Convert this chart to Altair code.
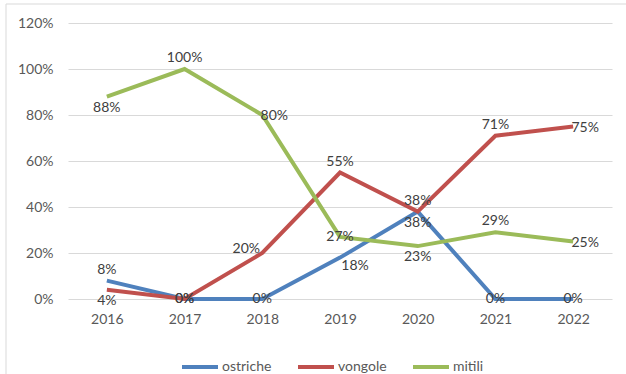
import altair as alt
import pandas as pd

# Share of each species by year
years = ["2016", "2017", "2018", "2019", "2020", "2021", "2022"]
series = ["ostriche", "vongole", "mitili"]
ostriche = [0.08, 0.00, 0.00, 0.18, 0.38, 0.00, 0.00]
vongole = [0.04, 0.00, 0.20, 0.55, 0.38, 0.71, 0.75]
mitili = [0.88, 1.00, 0.80, 0.27, 0.23, 0.29, 0.25]
colors = ["#4F81BD", "#C0504D", "#9BBB59"]

# Where each data label sits relative to its point
placement = {
    "ostriche": ["above", "center", "center", "belowright", "below", "center", "center"],
    "vongole": ["below", "center", "left", "above", "above", "above", "right"],
    "mitili": ["below", "above", "right", "center", "below", "above", "right"],
}

rows = []
for name, vals in zip(series, [ostriche, vongole, mitili]):
    for i, (yr, v) in enumerate(zip(years, vals)):
        rows.append({"serie": name, "anno": yr, "valore": v, "pos": placement[name][i]})
df = pd.DataFrame(rows)

FONT = "Lato"

x_enc = alt.X(
    "anno:O",
    sort=years,
    scale=alt.Scale(type="point", padding=0.5),
    axis=alt.Axis(
        title=None, labelAngle=0, ticks=False, tickSize=0, domain=False, grid=False,
        labelPadding=20, labelBaseline="middle", labelFontSize=14, labelColor="#595959",
        labelFont=FONT,
    ),
)
y_enc = alt.Y(
    "valore:Q",
    scale=alt.Scale(domain=[0, 1.2], nice=False, zero=True),
    axis=alt.Axis(
        title=None, format=".0%", values=[0, 0.2, 0.4, 0.6, 0.8, 1.0, 1.2],
        ticks=False, tickSize=0, domain=False, grid=True, gridColor="#d9d9d9",
        gridWidth=1, labelPadding=15, labelFontSize=14, labelColor="#595959",
        labelFont=FONT,
    ),
)
color_enc = alt.Color(
    "serie:N",
    sort=series,
    scale=alt.Scale(domain=series, range=colors),
    legend=alt.Legend(
        title=None, orient="none", direction="horizontal", legendX=112, legendY=324,
        symbolType="stroke", symbolSize=1296, symbolStrokeWidth=4,
        labelFontSize=14, labelColor="#595959", labelFont=FONT,
        labelOffset=2, columnPadding=18,
    ),
)

base = alt.Chart(df)

lines = base.mark_line(strokeWidth=4, strokeCap="butt", strokeJoin="miter").encode(
    x=x_enc, y=y_enc, color=color_enc, detail="serie:N",
    order=alt.Order("anno:O"),
)

offsets = {
    "above": (0, -11),
    "below": (0, 11),
    "right": (12, 1),
    "left": (-16, -4),
    "center": (0, 0),
    "belowright": (15, 8),
}

label_layers = []
for pos, (dx, dy) in offsets.items():
    label_layers.append(
        base.transform_filter(alt.datum.pos == pos)
        .mark_text(dx=dx, dy=dy, fontSize=14, font=FONT, color="#404040", baseline="middle")
        .encode(
            x=alt.X("anno:O", sort=years),
            y=alt.Y("valore:Q"),
            text=alt.Text("valore:Q", format=".0%"),
        )
    )

# Frame of the chart area (left and top edges)
frame_df = pd.DataFrame({"k": [0]})
left_edge = alt.Chart(frame_df).mark_rule(color="#d9d9d9", strokeWidth=1).encode(
    x=alt.value(-62), y=alt.value(-19), y2=alt.value(400)
)
top_edge = alt.Chart(frame_df).mark_rule(color="#d9d9d9", strokeWidth=1).encode(
    x=alt.value(-62), x2=alt.value(700), y=alt.value(-19)
)

chart = alt.layer(left_edge, top_edge, lines, *label_layers).properties(
    width=544,
    height=276,
    padding={"left": 68, "top": 23, "right": 14, "bottom": 75},
    autosize=alt.AutoSizeParams(type="none"),
    background="white",
).configure_view(stroke=None)

chart.save("out.html", embed_options={"renderer": "svg", "actions": False})
